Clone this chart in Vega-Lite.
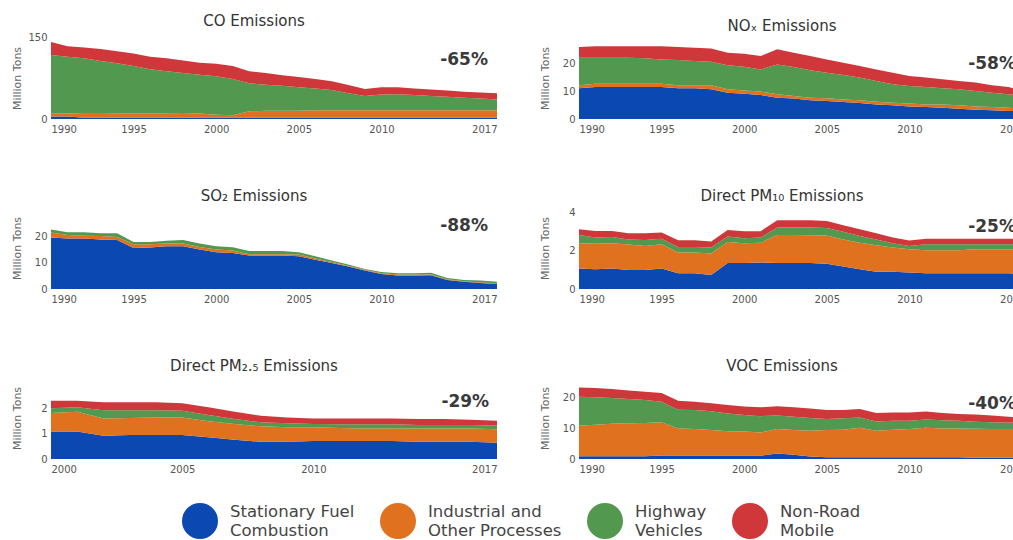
{
"$schema":"https://vega.github.io/schema/vega-lite/v6.json",
"padding":{"left":11,"top":14,"right":0,"bottom":0},
"background":"white",
"datasets":{
"ch":[{"p":"CO","c":"-65%"},{"p":"NOX","c":"-58%"},{"p":"SO2","c":"-88%"},{"p":"PM10","c":"-25%"},{"p":"PM25","c":"-29%"},{"p":"VOC","c":"-40%"}],
"em":[
{"p":"CO","t":1990,"s":"A","v":4.5},{"p":"CO","t":1990,"s":"B","v":5},{"p":"CO","t":1990,"s":"C","v":107.5},{"p":"CO","t":1990,"s":"D","v":24},
{"p":"CO","t":1991,"s":"A","v":4.5},{"p":"CO","t":1991,"s":"B","v":5.5},{"p":"CO","t":1991,"s":"C","v":104},{"p":"CO","t":1991,"s":"D","v":19},
{"p":"CO","t":1992,"s":"A","v":2.5},{"p":"CO","t":1992,"s":"B","v":8.5},{"p":"CO","t":1992,"s":"C","v":100},{"p":"CO","t":1992,"s":"D","v":20},
{"p":"CO","t":1993,"s":"A","v":2.5},{"p":"CO","t":1993,"s":"B","v":8.5},{"p":"CO","t":1993,"s":"C","v":95},{"p":"CO","t":1993,"s":"D","v":22},
{"p":"CO","t":1994,"s":"A","v":2.5},{"p":"CO","t":1994,"s":"B","v":8},{"p":"CO","t":1994,"s":"C","v":91.5},{"p":"CO","t":1994,"s":"D","v":22},
{"p":"CO","t":1995,"s":"A","v":2.5},{"p":"CO","t":1995,"s":"B","v":8},{"p":"CO","t":1995,"s":"C","v":86.5},{"p":"CO","t":1995,"s":"D","v":23},
{"p":"CO","t":1996,"s":"A","v":2.5},{"p":"CO","t":1996,"s":"B","v":8},{"p":"CO","t":1996,"s":"C","v":80.5},{"p":"CO","t":1996,"s":"D","v":23},
{"p":"CO","t":1997,"s":"A","v":2.5},{"p":"CO","t":1997,"s":"B","v":8},{"p":"CO","t":1997,"s":"C","v":77},{"p":"CO","t":1997,"s":"D","v":23.5},
{"p":"CO","t":1998,"s":"A","v":2.5},{"p":"CO","t":1998,"s":"B","v":8.5},{"p":"CO","t":1998,"s":"C","v":73},{"p":"CO","t":1998,"s":"D","v":23},
{"p":"CO","t":1999,"s":"A","v":2.5},{"p":"CO","t":1999,"s":"B","v":7.5},{"p":"CO","t":1999,"s":"C","v":71},{"p":"CO","t":1999,"s":"D","v":22},
{"p":"CO","t":2000,"s":"A","v":2.5},{"p":"CO","t":2000,"s":"B","v":5.5},{"p":"CO","t":2000,"s":"C","v":70},{"p":"CO","t":2000,"s":"D","v":23},
{"p":"CO","t":2001,"s":"A","v":2.5},{"p":"CO","t":2001,"s":"B","v":4.5},{"p":"CO","t":2001,"s":"C","v":66},{"p":"CO","t":2001,"s":"D","v":24},
{"p":"CO","t":2002,"s":"A","v":2.5},{"p":"CO","t":2002,"s":"B","v":11.5},{"p":"CO","t":2002,"s":"C","v":51.5},{"p":"CO","t":2002,"s":"D","v":22},
{"p":"CO","t":2003,"s":"A","v":2.5},{"p":"CO","t":2003,"s":"B","v":12.5},{"p":"CO","t":2003,"s":"C","v":47.5},{"p":"CO","t":2003,"s":"D","v":21.5},
{"p":"CO","t":2004,"s":"A","v":2.5},{"p":"CO","t":2004,"s":"B","v":12.5},{"p":"CO","t":2004,"s":"C","v":46},{"p":"CO","t":2004,"s":"D","v":19},
{"p":"CO","t":2005,"s":"A","v":2.5},{"p":"CO","t":2005,"s":"B","v":12.5},{"p":"CO","t":2005,"s":"C","v":43},{"p":"CO","t":2005,"s":"D","v":19},
{"p":"CO","t":2006,"s":"A","v":2.5},{"p":"CO","t":2006,"s":"B","v":13.5},{"p":"CO","t":2006,"s":"C","v":40},{"p":"CO","t":2006,"s":"D","v":17},
{"p":"CO","t":2007,"s":"A","v":2.5},{"p":"CO","t":2007,"s":"B","v":13.5},{"p":"CO","t":2007,"s":"C","v":37},{"p":"CO","t":2007,"s":"D","v":16},
{"p":"CO","t":2008,"s":"A","v":2.5},{"p":"CO","t":2008,"s":"B","v":13.5},{"p":"CO","t":2008,"s":"C","v":31},{"p":"CO","t":2008,"s":"D","v":15},
{"p":"CO","t":2009,"s":"A","v":2.5},{"p":"CO","t":2009,"s":"B","v":13.5},{"p":"CO","t":2009,"s":"C","v":26},{"p":"CO","t":2009,"s":"D","v":13},
{"p":"CO","t":2010,"s":"A","v":2.5},{"p":"CO","t":2010,"s":"B","v":13.5},{"p":"CO","t":2010,"s":"C","v":29},{"p":"CO","t":2010,"s":"D","v":13},
{"p":"CO","t":2011,"s":"A","v":2.5},{"p":"CO","t":2011,"s":"B","v":13.5},{"p":"CO","t":2011,"s":"C","v":29.5},{"p":"CO","t":2011,"s":"D","v":12.5},
{"p":"CO","t":2012,"s":"A","v":2.5},{"p":"CO","t":2012,"s":"B","v":13.5},{"p":"CO","t":2012,"s":"C","v":28},{"p":"CO","t":2012,"s":"D","v":12},
{"p":"CO","t":2013,"s":"A","v":2.5},{"p":"CO","t":2013,"s":"B","v":13.5},{"p":"CO","t":2013,"s":"C","v":26},{"p":"CO","t":2013,"s":"D","v":12},
{"p":"CO","t":2014,"s":"A","v":2.5},{"p":"CO","t":2014,"s":"B","v":13.5},{"p":"CO","t":2014,"s":"C","v":24.5},{"p":"CO","t":2014,"s":"D","v":11.5},
{"p":"CO","t":2015,"s":"A","v":2.5},{"p":"CO","t":2015,"s":"B","v":13.5},{"p":"CO","t":2015,"s":"C","v":23},{"p":"CO","t":2015,"s":"D","v":11},
{"p":"CO","t":2016,"s":"A","v":2.5},{"p":"CO","t":2016,"s":"B","v":13.5},{"p":"CO","t":2016,"s":"C","v":21.5},{"p":"CO","t":2016,"s":"D","v":11},
{"p":"CO","t":2017,"s":"A","v":2.5},{"p":"CO","t":2017,"s":"B","v":13.5},{"p":"CO","t":2017,"s":"C","v":19.5},{"p":"CO","t":2017,"s":"D","v":11.5},
{"p":"NOX","t":1990,"s":"A","v":11},{"p":"NOX","t":1990,"s":"B","v":1.1},{"p":"NOX","t":1990,"s":"C","v":9.8},{"p":"NOX","t":1990,"s":"D","v":3.8},
{"p":"NOX","t":1991,"s":"A","v":11.4},{"p":"NOX","t":1991,"s":"B","v":1.2},{"p":"NOX","t":1991,"s":"C","v":9.3},{"p":"NOX","t":1991,"s":"D","v":4.1},
{"p":"NOX","t":1992,"s":"A","v":11.4},{"p":"NOX","t":1992,"s":"B","v":1.2},{"p":"NOX","t":1992,"s":"C","v":9.3},{"p":"NOX","t":1992,"s":"D","v":4.1},
{"p":"NOX","t":1993,"s":"A","v":11.4},{"p":"NOX","t":1993,"s":"B","v":1.2},{"p":"NOX","t":1993,"s":"C","v":9.3},{"p":"NOX","t":1993,"s":"D","v":4.1},
{"p":"NOX","t":1994,"s":"A","v":11.4},{"p":"NOX","t":1994,"s":"B","v":1.2},{"p":"NOX","t":1994,"s":"C","v":9.1},{"p":"NOX","t":1994,"s":"D","v":4.3},
{"p":"NOX","t":1995,"s":"A","v":11.4},{"p":"NOX","t":1995,"s":"B","v":1.2},{"p":"NOX","t":1995,"s":"C","v":8.7},{"p":"NOX","t":1995,"s":"D","v":4.7},
{"p":"NOX","t":1996,"s":"A","v":11},{"p":"NOX","t":1996,"s":"B","v":1.1},{"p":"NOX","t":1996,"s":"C","v":9},{"p":"NOX","t":1996,"s":"D","v":4.6},
{"p":"NOX","t":1997,"s":"A","v":11},{"p":"NOX","t":1997,"s":"B","v":1.1},{"p":"NOX","t":1997,"s":"C","v":8.6},{"p":"NOX","t":1997,"s":"D","v":4.8},
{"p":"NOX","t":1998,"s":"A","v":10.6},{"p":"NOX","t":1998,"s":"B","v":1.5},{"p":"NOX","t":1998,"s":"C","v":8.4},{"p":"NOX","t":1998,"s":"D","v":4.7},
{"p":"NOX","t":1999,"s":"A","v":9.4},{"p":"NOX","t":1999,"s":"B","v":1.2},{"p":"NOX","t":1999,"s":"C","v":8.6},{"p":"NOX","t":1999,"s":"D","v":4.5},
{"p":"NOX","t":2000,"s":"A","v":9},{"p":"NOX","t":2000,"s":"B","v":1.2},{"p":"NOX","t":2000,"s":"C","v":8.5},{"p":"NOX","t":2000,"s":"D","v":4.6},
{"p":"NOX","t":2001,"s":"A","v":8.6},{"p":"NOX","t":2001,"s":"B","v":1.2},{"p":"NOX","t":2001,"s":"C","v":7.9},{"p":"NOX","t":2001,"s":"D","v":4.8},
{"p":"NOX","t":2002,"s":"A","v":7.6},{"p":"NOX","t":2002,"s":"B","v":1.2},{"p":"NOX","t":2002,"s":"C","v":10.7},{"p":"NOX","t":2002,"s":"D","v":5.4},
{"p":"NOX","t":2003,"s":"A","v":7.3},{"p":"NOX","t":2003,"s":"B","v":0.9},{"p":"NOX","t":2003,"s":"C","v":10.4},{"p":"NOX","t":2003,"s":"D","v":5.1},
{"p":"NOX","t":2004,"s":"A","v":6.7},{"p":"NOX","t":2004,"s":"B","v":0.9},{"p":"NOX","t":2004,"s":"C","v":9.8},{"p":"NOX","t":2004,"s":"D","v":5.1},
{"p":"NOX","t":2005,"s":"A","v":6.4},{"p":"NOX","t":2005,"s":"B","v":1},{"p":"NOX","t":2005,"s":"C","v":9.1},{"p":"NOX","t":2005,"s":"D","v":4.8},
{"p":"NOX","t":2006,"s":"A","v":6.1},{"p":"NOX","t":2006,"s":"B","v":0.9},{"p":"NOX","t":2006,"s":"C","v":8.7},{"p":"NOX","t":2006,"s":"D","v":4.4},
{"p":"NOX","t":2007,"s":"A","v":5.7},{"p":"NOX","t":2007,"s":"B","v":1},{"p":"NOX","t":2007,"s":"C","v":8.1},{"p":"NOX","t":2007,"s":"D","v":4.1},
{"p":"NOX","t":2008,"s":"A","v":5.2},{"p":"NOX","t":2008,"s":"B","v":1},{"p":"NOX","t":2008,"s":"C","v":7.4},{"p":"NOX","t":2008,"s":"D","v":4.1},
{"p":"NOX","t":2009,"s":"A","v":4.9},{"p":"NOX","t":2009,"s":"B","v":0.9},{"p":"NOX","t":2009,"s":"C","v":6.6},{"p":"NOX","t":2009,"s":"D","v":4.1},
{"p":"NOX","t":2010,"s":"A","v":4.5},{"p":"NOX","t":2010,"s":"B","v":1},{"p":"NOX","t":2010,"s":"C","v":6.3},{"p":"NOX","t":2010,"s":"D","v":3.6},
{"p":"NOX","t":2011,"s":"A","v":4.3},{"p":"NOX","t":2011,"s":"B","v":0.9},{"p":"NOX","t":2011,"s":"C","v":6.2},{"p":"NOX","t":2011,"s":"D","v":3.4},
{"p":"NOX","t":2012,"s":"A","v":4},{"p":"NOX","t":2012,"s":"B","v":1.2},{"p":"NOX","t":2012,"s":"C","v":5.8},{"p":"NOX","t":2012,"s":"D","v":3.2},
{"p":"NOX","t":2013,"s":"A","v":3.7},{"p":"NOX","t":2013,"s":"B","v":1.2},{"p":"NOX","t":2013,"s":"C","v":5.7},{"p":"NOX","t":2013,"s":"D","v":3},
{"p":"NOX","t":2014,"s":"A","v":3.3},{"p":"NOX","t":2014,"s":"B","v":1.2},{"p":"NOX","t":2014,"s":"C","v":5.5},{"p":"NOX","t":2014,"s":"D","v":3},
{"p":"NOX","t":2015,"s":"A","v":3.1},{"p":"NOX","t":2015,"s":"B","v":1.2},{"p":"NOX","t":2015,"s":"C","v":5.1},{"p":"NOX","t":2015,"s":"D","v":2.7},
{"p":"NOX","t":2016,"s":"A","v":2.9},{"p":"NOX","t":2016,"s":"B","v":1.1},{"p":"NOX","t":2016,"s":"C","v":4.8},{"p":"NOX","t":2016,"s":"D","v":2.6},
{"p":"NOX","t":2017,"s":"A","v":2.6},{"p":"NOX","t":2017,"s":"B","v":1.2},{"p":"NOX","t":2017,"s":"C","v":4.4},{"p":"NOX","t":2017,"s":"D","v":1.8},
{"p":"SO2","t":1990,"s":"A","v":19.5},{"p":"SO2","t":1990,"s":"B","v":1.9},{"p":"SO2","t":1990,"s":"C","v":1.1},
{"p":"SO2","t":1991,"s":"A","v":19.1},{"p":"SO2","t":1991,"s":"B","v":1.3},{"p":"SO2","t":1991,"s":"C","v":1.1},
{"p":"SO2","t":1992,"s":"A","v":19.1},{"p":"SO2","t":1992,"s":"B","v":1},{"p":"SO2","t":1992,"s":"C","v":1.4},
{"p":"SO2","t":1993,"s":"A","v":18.7},{"p":"SO2","t":1993,"s":"B","v":1.3},{"p":"SO2","t":1993,"s":"C","v":1.1},
{"p":"SO2","t":1994,"s":"A","v":18.5},{"p":"SO2","t":1994,"s":"B","v":1.2},{"p":"SO2","t":1994,"s":"C","v":1.4},
{"p":"SO2","t":1995,"s":"A","v":15.5},{"p":"SO2","t":1995,"s":"B","v":1.4},{"p":"SO2","t":1995,"s":"C","v":0.9},
{"p":"SO2","t":1996,"s":"A","v":15.7},{"p":"SO2","t":1996,"s":"B","v":1.2},{"p":"SO2","t":1996,"s":"C","v":0.9},
{"p":"SO2","t":1997,"s":"A","v":16.2},{"p":"SO2","t":1997,"s":"B","v":1},{"p":"SO2","t":1997,"s":"C","v":1},
{"p":"SO2","t":1998,"s":"A","v":16.2},{"p":"SO2","t":1998,"s":"B","v":1},{"p":"SO2","t":1998,"s":"C","v":1.3},
{"p":"SO2","t":1999,"s":"A","v":14.9},{"p":"SO2","t":1999,"s":"B","v":1},{"p":"SO2","t":1999,"s":"C","v":1.3},
{"p":"SO2","t":2000,"s":"A","v":13.9},{"p":"SO2","t":2000,"s":"B","v":1},{"p":"SO2","t":2000,"s":"C","v":1.3},
{"p":"SO2","t":2001,"s":"A","v":13.6},{"p":"SO2","t":2001,"s":"B","v":1},{"p":"SO2","t":2001,"s":"C","v":1.2},
{"p":"SO2","t":2002,"s":"A","v":12.7},{"p":"SO2","t":2002,"s":"B","v":0.4},{"p":"SO2","t":2002,"s":"C","v":1.3},
{"p":"SO2","t":2003,"s":"A","v":12.7},{"p":"SO2","t":2003,"s":"B","v":0.4},{"p":"SO2","t":2003,"s":"C","v":1.3},
{"p":"SO2","t":2004,"s":"A","v":12.7},{"p":"SO2","t":2004,"s":"B","v":0.4},{"p":"SO2","t":2004,"s":"C","v":1.3},
{"p":"SO2","t":2005,"s":"A","v":12.4},{"p":"SO2","t":2005,"s":"B","v":0.6},{"p":"SO2","t":2005,"s":"C","v":0.9},
{"p":"SO2","t":2006,"s":"A","v":11.1},{"p":"SO2","t":2006,"s":"B","v":0.4},{"p":"SO2","t":2006,"s":"C","v":0.9},
{"p":"SO2","t":2007,"s":"A","v":9.8},{"p":"SO2","t":2007,"s":"B","v":0.4},{"p":"SO2","t":2007,"s":"C","v":0.6},
{"p":"SO2","t":2008,"s":"A","v":8.5},{"p":"SO2","t":2008,"s":"B","v":0.3},{"p":"SO2","t":2008,"s":"C","v":0.5},
{"p":"SO2","t":2009,"s":"A","v":7},{"p":"SO2","t":2009,"s":"B","v":0.3},{"p":"SO2","t":2009,"s":"C","v":0.3},
{"p":"SO2","t":2010,"s":"A","v":5.7},{"p":"SO2","t":2010,"s":"B","v":0.3},{"p":"SO2","t":2010,"s":"C","v":0.4},
{"p":"SO2","t":2011,"s":"A","v":5.1},{"p":"SO2","t":2011,"s":"B","v":0.4},{"p":"SO2","t":2011,"s":"C","v":0.5},
{"p":"SO2","t":2012,"s":"A","v":5.1},{"p":"SO2","t":2012,"s":"B","v":0.4},{"p":"SO2","t":2012,"s":"C","v":0.5},
{"p":"SO2","t":2013,"s":"A","v":5.2},{"p":"SO2","t":2013,"s":"B","v":0.3},{"p":"SO2","t":2013,"s":"C","v":0.6},
{"p":"SO2","t":2014,"s":"A","v":3.4},{"p":"SO2","t":2014,"s":"B","v":0.3},{"p":"SO2","t":2014,"s":"C","v":0.5},
{"p":"SO2","t":2015,"s":"A","v":2.7},{"p":"SO2","t":2015,"s":"B","v":0.2},{"p":"SO2","t":2015,"s":"C","v":0.5},
{"p":"SO2","t":2016,"s":"A","v":2.3},{"p":"SO2","t":2016,"s":"B","v":0.2},{"p":"SO2","t":2016,"s":"C","v":0.7},
{"p":"SO2","t":2017,"s":"A","v":1.9},{"p":"SO2","t":2017,"s":"B","v":0.3},{"p":"SO2","t":2017,"s":"C","v":0.5},
{"p":"PM10","t":1990,"s":"A","v":1.08},{"p":"PM10","t":1990,"s":"B","v":1.32},{"p":"PM10","t":1990,"s":"C","v":0.43},{"p":"PM10","t":1990,"s":"D","v":0.3},
{"p":"PM10","t":1991,"s":"A","v":1.04},{"p":"PM10","t":1991,"s":"B","v":1.33},{"p":"PM10","t":1991,"s":"C","v":0.33},{"p":"PM10","t":1991,"s":"D","v":0.34},
{"p":"PM10","t":1992,"s":"A","v":1.08},{"p":"PM10","t":1992,"s":"B","v":1.32},{"p":"PM10","t":1992,"s":"C","v":0.33},{"p":"PM10","t":1992,"s":"D","v":0.31},
{"p":"PM10","t":1993,"s":"A","v":1},{"p":"PM10","t":1993,"s":"B","v":1.33},{"p":"PM10","t":1993,"s":"C","v":0.27},{"p":"PM10","t":1993,"s":"D","v":0.32},
{"p":"PM10","t":1994,"s":"A","v":1},{"p":"PM10","t":1994,"s":"B","v":1.26},{"p":"PM10","t":1994,"s":"C","v":0.31},{"p":"PM10","t":1994,"s":"D","v":0.35},
{"p":"PM10","t":1995,"s":"A","v":1.08},{"p":"PM10","t":1995,"s":"B","v":1.27},{"p":"PM10","t":1995,"s":"C","v":0.29},{"p":"PM10","t":1995,"s":"D","v":0.32},
{"p":"PM10","t":1996,"s":"A","v":0.82},{"p":"PM10","t":1996,"s":"B","v":1.09},{"p":"PM10","t":1996,"s":"C","v":0.29},{"p":"PM10","t":1996,"s":"D","v":0.36},
{"p":"PM10","t":1997,"s":"A","v":0.82},{"p":"PM10","t":1997,"s":"B","v":1.09},{"p":"PM10","t":1997,"s":"C","v":0.29},{"p":"PM10","t":1997,"s":"D","v":0.36},
{"p":"PM10","t":1998,"s":"A","v":0.73},{"p":"PM10","t":1998,"s":"B","v":1.13},{"p":"PM10","t":1998,"s":"C","v":0.31},{"p":"PM10","t":1998,"s":"D","v":0.32},
{"p":"PM10","t":1999,"s":"A","v":1.36},{"p":"PM10","t":1999,"s":"B","v":1.11},{"p":"PM10","t":1999,"s":"C","v":0.28},{"p":"PM10","t":1999,"s":"D","v":0.35},
{"p":"PM10","t":2000,"s":"A","v":1.36},{"p":"PM10","t":2000,"s":"B","v":1.04},{"p":"PM10","t":2000,"s":"C","v":0.26},{"p":"PM10","t":2000,"s":"D","v":0.37},
{"p":"PM10","t":2001,"s":"A","v":1.39},{"p":"PM10","t":2001,"s":"B","v":1.04},{"p":"PM10","t":2001,"s":"C","v":0.27},{"p":"PM10","t":2001,"s":"D","v":0.33},
{"p":"PM10","t":2002,"s":"A","v":1.36},{"p":"PM10","t":2002,"s":"B","v":1.47},{"p":"PM10","t":2002,"s":"C","v":0.39},{"p":"PM10","t":2002,"s":"D","v":0.38},
{"p":"PM10","t":2003,"s":"A","v":1.36},{"p":"PM10","t":2003,"s":"B","v":1.47},{"p":"PM10","t":2003,"s":"C","v":0.39},{"p":"PM10","t":2003,"s":"D","v":0.38},
{"p":"PM10","t":2004,"s":"A","v":1.36},{"p":"PM10","t":2004,"s":"B","v":1.46},{"p":"PM10","t":2004,"s":"C","v":0.4},{"p":"PM10","t":2004,"s":"D","v":0.38},
{"p":"PM10","t":2005,"s":"A","v":1.32},{"p":"PM10","t":2005,"s":"B","v":1.48},{"p":"PM10","t":2005,"s":"C","v":0.4},{"p":"PM10","t":2005,"s":"D","v":0.37},
{"p":"PM10","t":2006,"s":"A","v":1.18},{"p":"PM10","t":2006,"s":"B","v":1.42},{"p":"PM10","t":2006,"s":"C","v":0.4},{"p":"PM10","t":2006,"s":"D","v":0.34},
{"p":"PM10","t":2007,"s":"A","v":1.04},{"p":"PM10","t":2007,"s":"B","v":1.39},{"p":"PM10","t":2007,"s":"C","v":0.35},{"p":"PM10","t":2007,"s":"D","v":0.35},
{"p":"PM10","t":2008,"s":"A","v":0.9},{"p":"PM10","t":2008,"s":"B","v":1.4},{"p":"PM10","t":2008,"s":"C","v":0.3},{"p":"PM10","t":2008,"s":"D","v":0.32},
{"p":"PM10","t":2009,"s":"A","v":0.9},{"p":"PM10","t":2009,"s":"B","v":1.27},{"p":"PM10","t":2009,"s":"C","v":0.23},{"p":"PM10","t":2009,"s":"D","v":0.3},
{"p":"PM10","t":2010,"s":"A","v":0.87},{"p":"PM10","t":2010,"s":"B","v":1.22},{"p":"PM10","t":2010,"s":"C","v":0.17},{"p":"PM10","t":2010,"s":"D","v":0.28},
{"p":"PM10","t":2011,"s":"A","v":0.83},{"p":"PM10","t":2011,"s":"B","v":1.2},{"p":"PM10","t":2011,"s":"C","v":0.32},{"p":"PM10","t":2011,"s":"D","v":0.28},
{"p":"PM10","t":2012,"s":"A","v":0.83},{"p":"PM10","t":2012,"s":"B","v":1.2},{"p":"PM10","t":2012,"s":"C","v":0.32},{"p":"PM10","t":2012,"s":"D","v":0.28},
{"p":"PM10","t":2013,"s":"A","v":0.83},{"p":"PM10","t":2013,"s":"B","v":1.2},{"p":"PM10","t":2013,"s":"C","v":0.32},{"p":"PM10","t":2013,"s":"D","v":0.28},
{"p":"PM10","t":2014,"s":"A","v":0.83},{"p":"PM10","t":2014,"s":"B","v":1.26},{"p":"PM10","t":2014,"s":"C","v":0.26},{"p":"PM10","t":2014,"s":"D","v":0.28},
{"p":"PM10","t":2015,"s":"A","v":0.83},{"p":"PM10","t":2015,"s":"B","v":1.26},{"p":"PM10","t":2015,"s":"C","v":0.26},{"p":"PM10","t":2015,"s":"D","v":0.28},
{"p":"PM10","t":2016,"s":"A","v":0.83},{"p":"PM10","t":2016,"s":"B","v":1.26},{"p":"PM10","t":2016,"s":"C","v":0.26},{"p":"PM10","t":2016,"s":"D","v":0.28},
{"p":"PM10","t":2017,"s":"A","v":0.78},{"p":"PM10","t":2017,"s":"B","v":1.27},{"p":"PM10","t":2017,"s":"C","v":0.3},{"p":"PM10","t":2017,"s":"D","v":0.28},
{"p":"PM25","t":2000,"s":"A","v":1.09},{"p":"PM25","t":2000,"s":"B","v":0.73},{"p":"PM25","t":2000,"s":"C","v":0.19},{"p":"PM25","t":2000,"s":"D","v":0.29},
{"p":"PM25","t":2001,"s":"A","v":1.09},{"p":"PM25","t":2001,"s":"B","v":0.78},{"p":"PM25","t":2001,"s":"C","v":0.17},{"p":"PM25","t":2001,"s":"D","v":0.26},
{"p":"PM25","t":2002,"s":"A","v":0.92},{"p":"PM25","t":2002,"s":"B","v":0.68},{"p":"PM25","t":2002,"s":"C","v":0.33},{"p":"PM25","t":2002,"s":"D","v":0.31},
{"p":"PM25","t":2003,"s":"A","v":0.95},{"p":"PM25","t":2003,"s":"B","v":0.67},{"p":"PM25","t":2003,"s":"C","v":0.31},{"p":"PM25","t":2003,"s":"D","v":0.31},
{"p":"PM25","t":2004,"s":"A","v":0.95},{"p":"PM25","t":2004,"s":"B","v":0.69},{"p":"PM25","t":2004,"s":"C","v":0.29},{"p":"PM25","t":2004,"s":"D","v":0.31},
{"p":"PM25","t":2005,"s":"A","v":0.95},{"p":"PM25","t":2005,"s":"B","v":0.69},{"p":"PM25","t":2005,"s":"C","v":0.27},{"p":"PM25","t":2005,"s":"D","v":0.29},
{"p":"PM25","t":2006,"s":"A","v":0.86},{"p":"PM25","t":2006,"s":"B","v":0.63},{"p":"PM25","t":2006,"s":"C","v":0.25},{"p":"PM25","t":2006,"s":"D","v":0.3},
{"p":"PM25","t":2007,"s":"A","v":0.76},{"p":"PM25","t":2007,"s":"B","v":0.62},{"p":"PM25","t":2007,"s":"C","v":0.2},{"p":"PM25","t":2007,"s":"D","v":0.29},
{"p":"PM25","t":2008,"s":"A","v":0.68},{"p":"PM25","t":2008,"s":"B","v":0.61},{"p":"PM25","t":2008,"s":"C","v":0.16},{"p":"PM25","t":2008,"s":"D","v":0.26},
{"p":"PM25","t":2009,"s":"A","v":0.68},{"p":"PM25","t":2009,"s":"B","v":0.57},{"p":"PM25","t":2009,"s":"C","v":0.16},{"p":"PM25","t":2009,"s":"D","v":0.23},
{"p":"PM25","t":2010,"s":"A","v":0.71},{"p":"PM25","t":2010,"s":"B","v":0.54},{"p":"PM25","t":2010,"s":"C","v":0.13},{"p":"PM25","t":2010,"s":"D","v":0.22},
{"p":"PM25","t":2011,"s":"A","v":0.71},{"p":"PM25","t":2011,"s":"B","v":0.51},{"p":"PM25","t":2011,"s":"C","v":0.15},{"p":"PM25","t":2011,"s":"D","v":0.23},
{"p":"PM25","t":2012,"s":"A","v":0.71},{"p":"PM25","t":2012,"s":"B","v":0.5},{"p":"PM25","t":2012,"s":"C","v":0.16},{"p":"PM25","t":2012,"s":"D","v":0.23},
{"p":"PM25","t":2013,"s":"A","v":0.71},{"p":"PM25","t":2013,"s":"B","v":0.5},{"p":"PM25","t":2013,"s":"C","v":0.16},{"p":"PM25","t":2013,"s":"D","v":0.23},
{"p":"PM25","t":2014,"s":"A","v":0.68},{"p":"PM25","t":2014,"s":"B","v":0.53},{"p":"PM25","t":2014,"s":"C","v":0.13},{"p":"PM25","t":2014,"s":"D","v":0.24},
{"p":"PM25","t":2015,"s":"A","v":0.68},{"p":"PM25","t":2015,"s":"B","v":0.53},{"p":"PM25","t":2015,"s":"C","v":0.13},{"p":"PM25","t":2015,"s":"D","v":0.24},
{"p":"PM25","t":2016,"s":"A","v":0.68},{"p":"PM25","t":2016,"s":"B","v":0.53},{"p":"PM25","t":2016,"s":"C","v":0.13},{"p":"PM25","t":2016,"s":"D","v":0.21},
{"p":"PM25","t":2017,"s":"A","v":0.64},{"p":"PM25","t":2017,"s":"B","v":0.54},{"p":"PM25","t":2017,"s":"C","v":0.14},{"p":"PM25","t":2017,"s":"D","v":0.19},
{"p":"VOC","t":1990,"s":"A","v":0.9},{"p":"VOC","t":1990,"s":"B","v":9.9},{"p":"VOC","t":1990,"s":"C","v":9.4},{"p":"VOC","t":1990,"s":"D","v":3},
{"p":"VOC","t":1991,"s":"A","v":0.9},{"p":"VOC","t":1991,"s":"B","v":10.2},{"p":"VOC","t":1991,"s":"C","v":8.9},{"p":"VOC","t":1991,"s":"D","v":3},
{"p":"VOC","t":1992,"s":"A","v":0.9},{"p":"VOC","t":1992,"s":"B","v":10.5},{"p":"VOC","t":1992,"s":"C","v":8.4},{"p":"VOC","t":1992,"s":"D","v":2.9},
{"p":"VOC","t":1993,"s":"A","v":0.9},{"p":"VOC","t":1993,"s":"B","v":10.7},{"p":"VOC","t":1993,"s":"C","v":7.9},{"p":"VOC","t":1993,"s":"D","v":2.7},
{"p":"VOC","t":1994,"s":"A","v":0.9},{"p":"VOC","t":1994,"s":"B","v":10.8},{"p":"VOC","t":1994,"s":"C","v":7.4},{"p":"VOC","t":1994,"s":"D","v":2.7},
{"p":"VOC","t":1995,"s":"A","v":1.1},{"p":"VOC","t":1995,"s":"B","v":10.8},{"p":"VOC","t":1995,"s":"C","v":6.7},{"p":"VOC","t":1995,"s":"D","v":2.8},
{"p":"VOC","t":1996,"s":"A","v":1.1},{"p":"VOC","t":1996,"s":"B","v":8.8},{"p":"VOC","t":1996,"s":"C","v":6.1},{"p":"VOC","t":1996,"s":"D","v":2.9},
{"p":"VOC","t":1997,"s":"A","v":1.1},{"p":"VOC","t":1997,"s":"B","v":8.6},{"p":"VOC","t":1997,"s":"C","v":6.2},{"p":"VOC","t":1997,"s":"D","v":2.7},
{"p":"VOC","t":1998,"s":"A","v":1.1},{"p":"VOC","t":1998,"s":"B","v":8.3},{"p":"VOC","t":1998,"s":"C","v":6.1},{"p":"VOC","t":1998,"s":"D","v":2.6},
{"p":"VOC","t":1999,"s":"A","v":1.1},{"p":"VOC","t":1999,"s":"B","v":7.9},{"p":"VOC","t":1999,"s":"C","v":5.8},{"p":"VOC","t":1999,"s":"D","v":2.7},
{"p":"VOC","t":2000,"s":"A","v":1.1},{"p":"VOC","t":2000,"s":"B","v":7.8},{"p":"VOC","t":2000,"s":"C","v":5.4},{"p":"VOC","t":2000,"s":"D","v":2.7},
{"p":"VOC","t":2001,"s":"A","v":1.1},{"p":"VOC","t":2001,"s":"B","v":7.5},{"p":"VOC","t":2001,"s":"C","v":5.3},{"p":"VOC","t":2001,"s":"D","v":2.9},
{"p":"VOC","t":2002,"s":"A","v":1.8},{"p":"VOC","t":2002,"s":"B","v":7.9},{"p":"VOC","t":2002,"s":"C","v":4.4},{"p":"VOC","t":2002,"s":"D","v":3},
{"p":"VOC","t":2003,"s":"A","v":1.4},{"p":"VOC","t":2003,"s":"B","v":8},{"p":"VOC","t":2003,"s":"C","v":4.3},{"p":"VOC","t":2003,"s":"D","v":3.1},
{"p":"VOC","t":2004,"s":"A","v":0.8},{"p":"VOC","t":2004,"s":"B","v":8.4},{"p":"VOC","t":2004,"s":"C","v":4.1},{"p":"VOC","t":2004,"s":"D","v":3.1},
{"p":"VOC","t":2005,"s":"A","v":0.6},{"p":"VOC","t":2005,"s":"B","v":8.8},{"p":"VOC","t":2005,"s":"C","v":3.6},{"p":"VOC","t":2005,"s":"D","v":2.9},
{"p":"VOC","t":2006,"s":"A","v":0.6},{"p":"VOC","t":2006,"s":"B","v":8.9},{"p":"VOC","t":2006,"s":"C","v":3.7},{"p":"VOC","t":2006,"s":"D","v":2.7},
{"p":"VOC","t":2007,"s":"A","v":0.6},{"p":"VOC","t":2007,"s":"B","v":9.5},{"p":"VOC","t":2007,"s":"C","v":3.4},{"p":"VOC","t":2007,"s":"D","v":2.7},
{"p":"VOC","t":2008,"s":"A","v":0.6},{"p":"VOC","t":2008,"s":"B","v":8.6},{"p":"VOC","t":2008,"s":"C","v":3},{"p":"VOC","t":2008,"s":"D","v":2.7},
{"p":"VOC","t":2009,"s":"A","v":0.6},{"p":"VOC","t":2009,"s":"B","v":8.9},{"p":"VOC","t":2009,"s":"C","v":2.9},{"p":"VOC","t":2009,"s":"D","v":2.7},
{"p":"VOC","t":2010,"s":"A","v":0.6},{"p":"VOC","t":2010,"s":"B","v":9.1},{"p":"VOC","t":2010,"s":"C","v":2.7},{"p":"VOC","t":2010,"s":"D","v":2.7},
{"p":"VOC","t":2011,"s":"A","v":0.6},{"p":"VOC","t":2011,"s":"B","v":9.5},{"p":"VOC","t":2011,"s":"C","v":2.7},{"p":"VOC","t":2011,"s":"D","v":2.6},
{"p":"VOC","t":2012,"s":"A","v":0.6},{"p":"VOC","t":2012,"s":"B","v":9.3},{"p":"VOC","t":2012,"s":"C","v":2.7},{"p":"VOC","t":2012,"s":"D","v":2.3},
{"p":"VOC","t":2013,"s":"A","v":0.6},{"p":"VOC","t":2013,"s":"B","v":9.3},{"p":"VOC","t":2013,"s":"C","v":2.5},{"p":"VOC","t":2013,"s":"D","v":2.2},
{"p":"VOC","t":2014,"s":"A","v":0.4},{"p":"VOC","t":2014,"s":"B","v":9.4},{"p":"VOC","t":2014,"s":"C","v":2.3},{"p":"VOC","t":2014,"s":"D","v":2.3},
{"p":"VOC","t":2015,"s":"A","v":0.4},{"p":"VOC","t":2015,"s":"B","v":9.3},{"p":"VOC","t":2015,"s":"C","v":2.2},{"p":"VOC","t":2015,"s":"D","v":2.2},
{"p":"VOC","t":2016,"s":"A","v":0.4},{"p":"VOC","t":2016,"s":"B","v":9.3},{"p":"VOC","t":2016,"s":"C","v":2.1},{"p":"VOC","t":2016,"s":"D","v":1.9},
{"p":"VOC","t":2017,"s":"A","v":0.4},{"p":"VOC","t":2017,"s":"B","v":9.3},{"p":"VOC","t":2017,"s":"C","v":1.9},{"p":"VOC","t":2017,"s":"D","v":1.7}
]},
"columns":2,
"spacing":{"row":55,"column":42},
"concat":[
{"title":"CO Emissions","width":446,"height":82,"layer":[
 {"data":{"name":"em"},"transform":[{"filter":"datum.p == 'CO'"}],"mark":{"type":"area","line":false,"opacity":1},
  "encoding":{"x":{"field":"t","type":"quantitative","scale":{"domain":[1990,2017],"nice":false,"zero":false},"axis":{"values":[1990,1995,2000,2005,2010,2017],"format":"d","title":null}},
   "y":{"field":"v","type":"quantitative","stack":"zero","scale":{"domain":[0,150],"nice":false},"axis":{"values":[0,50,100,150],"title":"Million Tons"}},
   "order":{"field":"s","type":"ordinal","sort":"ascending"},
   "color":{"field":"s","type":"nominal","scale":{"domain":["A","B","C","D"],"range":["#0C48B2","#E0711F","#52994F","#CF373B"]},"legend":{"orient":"none","legendX":131,"legendY":466,"direction":"horizontal","title":null,"labelExpr":"datum.value == 'A' ? ['Stationary Fuel','Combustion'] : datum.value == 'B' ? ['Industrial and','Other Processes'] : datum.value == 'C' ? ['Highway','Vehicles'] : ['Non-Road','Mobile']","encode":{"labels":{"update":{"dy":{"value":-9}}}}}}}},
 {"data":{"name":"ch"},"transform":[{"filter":"datum.p == 'CO'"}],"mark":{"type":"text","align":"right","baseline":"middle","font":"DejaVu Sans","fontWeight":"bold","fontSize":17,"color":"#3a3a3a"},
  "encoding":{"x":{"datum":2016.45,"type":"quantitative"},"y":{"datum":108,"type":"quantitative"},"text":{"field":"c"}}}
]},
{"title":"NOₓ Emissions","width":446,"height":82,"layer":[
 {"data":{"name":"em"},"transform":[{"filter":"datum.p == 'NOX'"}],"mark":{"type":"area","line":false,"opacity":1},
  "encoding":{"x":{"field":"t","type":"quantitative","scale":{"domain":[1990,2017],"nice":false,"zero":false},"axis":{"values":[1990,1995,2000,2005,2010,2017],"format":"d","title":null}},
   "y":{"field":"v","type":"quantitative","stack":"zero","scale":{"domain":[0,29.3],"nice":false},"axis":{"values":[0,10,20],"title":"Million Tons"}},
   "order":{"field":"s","type":"ordinal","sort":"ascending"},
   "color":{"field":"s","type":"nominal","scale":{"domain":["A","B","C","D"],"range":["#0C48B2","#E0711F","#52994F","#CF373B"]},"legend":{"orient":"none","legendX":131,"legendY":466,"direction":"horizontal","title":null,"labelExpr":"datum.value == 'A' ? ['Stationary Fuel','Combustion'] : datum.value == 'B' ? ['Industrial and','Other Processes'] : datum.value == 'C' ? ['Highway','Vehicles'] : ['Non-Road','Mobile']","encode":{"labels":{"update":{"dy":{"value":-9}}}}}}}},
 {"data":{"name":"ch"},"transform":[{"filter":"datum.p == 'NOX'"}],"mark":{"type":"text","align":"right","baseline":"middle","font":"DejaVu Sans","fontWeight":"bold","fontSize":17,"color":"#3a3a3a"},
  "encoding":{"x":{"datum":2016.45,"type":"quantitative"},"y":{"datum":19.6,"type":"quantitative"},"text":{"field":"c"}}}
]},
{"title":"SO₂ Emissions","width":446,"height":82,"layer":[
 {"data":{"name":"em"},"transform":[{"filter":"datum.p == 'SO2'"}],"mark":{"type":"area","line":false,"opacity":1},
  "encoding":{"x":{"field":"t","type":"quantitative","scale":{"domain":[1990,2017],"nice":false,"zero":false},"axis":{"values":[1990,1995,2000,2005,2010,2017],"format":"d","title":null}},
   "y":{"field":"v","type":"quantitative","stack":"zero","scale":{"domain":[0,31],"nice":false},"axis":{"values":[0,10,20],"title":"Million Tons"}},
   "order":{"field":"s","type":"ordinal","sort":"ascending"},
   "color":{"field":"s","type":"nominal","scale":{"domain":["A","B","C","D"],"range":["#0C48B2","#E0711F","#52994F","#CF373B"]},"legend":{"orient":"none","legendX":131,"legendY":466,"direction":"horizontal","title":null,"labelExpr":"datum.value == 'A' ? ['Stationary Fuel','Combustion'] : datum.value == 'B' ? ['Industrial and','Other Processes'] : datum.value == 'C' ? ['Highway','Vehicles'] : ['Non-Road','Mobile']","encode":{"labels":{"update":{"dy":{"value":-9}}}}}}}},
 {"data":{"name":"ch"},"transform":[{"filter":"datum.p == 'SO2'"}],"mark":{"type":"text","align":"right","baseline":"middle","font":"DejaVu Sans","fontWeight":"bold","fontSize":17,"color":"#3a3a3a"},
  "encoding":{"x":{"datum":2016.45,"type":"quantitative"},"y":{"datum":24,"type":"quantitative"},"text":{"field":"c"}}}
]},
{"title":"Direct PM₁₀ Emissions","width":446,"height":82,"layer":[
 {"data":{"name":"em"},"transform":[{"filter":"datum.p == 'PM10'"}],"mark":{"type":"area","line":false,"opacity":1},
  "encoding":{"x":{"field":"t","type":"quantitative","scale":{"domain":[1990,2017],"nice":false,"zero":false},"axis":{"values":[1990,1995,2000,2005,2010,2017],"format":"d","title":null}},
   "y":{"field":"v","type":"quantitative","stack":"zero","scale":{"domain":[0,4.3],"nice":false},"axis":{"values":[0,1,2,3,4],"title":"Million Tons"}},
   "order":{"field":"s","type":"ordinal","sort":"ascending"},
   "color":{"field":"s","type":"nominal","scale":{"domain":["A","B","C","D"],"range":["#0C48B2","#E0711F","#52994F","#CF373B"]},"legend":{"orient":"none","legendX":131,"legendY":466,"direction":"horizontal","title":null,"labelExpr":"datum.value == 'A' ? ['Stationary Fuel','Combustion'] : datum.value == 'B' ? ['Industrial and','Other Processes'] : datum.value == 'C' ? ['Highway','Vehicles'] : ['Non-Road','Mobile']","encode":{"labels":{"update":{"dy":{"value":-9}}}}}}}},
 {"data":{"name":"ch"},"transform":[{"filter":"datum.p == 'PM10'"}],"mark":{"type":"text","align":"right","baseline":"middle","font":"DejaVu Sans","fontWeight":"bold","fontSize":17,"color":"#3a3a3a"},
  "encoding":{"x":{"datum":2016.45,"type":"quantitative"},"y":{"datum":3.23,"type":"quantitative"},"text":{"field":"c"}}}
]},
{"title":"Direct PM₂.₅ Emissions","width":446,"height":82,"layer":[
 {"data":{"name":"em"},"transform":[{"filter":"datum.p == 'PM25'"}],"mark":{"type":"area","line":false,"opacity":1},
  "encoding":{"x":{"field":"t","type":"quantitative","scale":{"domain":[2000,2017],"nice":false,"zero":false},"axis":{"values":[2000,2005,2010,2017],"format":"d","title":null}},
   "y":{"field":"v","type":"quantitative","stack":"zero","scale":{"domain":[0,3.24],"nice":false},"axis":{"values":[0,1,2],"title":"Million Tons"}},
   "order":{"field":"s","type":"ordinal","sort":"ascending"},
   "color":{"field":"s","type":"nominal","scale":{"domain":["A","B","C","D"],"range":["#0C48B2","#E0711F","#52994F","#CF373B"]},"legend":{"orient":"none","legendX":131,"legendY":466,"direction":"horizontal","title":null,"labelExpr":"datum.value == 'A' ? ['Stationary Fuel','Combustion'] : datum.value == 'B' ? ['Industrial and','Other Processes'] : datum.value == 'C' ? ['Highway','Vehicles'] : ['Non-Road','Mobile']","encode":{"labels":{"update":{"dy":{"value":-9}}}}}}}},
 {"data":{"name":"ch"},"transform":[{"filter":"datum.p == 'PM25'"}],"mark":{"type":"text","align":"right","baseline":"middle","font":"DejaVu Sans","fontWeight":"bold","fontSize":17,"color":"#3a3a3a"},
  "encoding":{"x":{"datum":2016.7,"type":"quantitative"},"y":{"datum":2.25,"type":"quantitative"},"text":{"field":"c"}}}
]},
{"title":"VOC Emissions","width":446,"height":82,"layer":[
 {"data":{"name":"em"},"transform":[{"filter":"datum.p == 'VOC'"}],"mark":{"type":"area","line":false,"opacity":1},
  "encoding":{"x":{"field":"t","type":"quantitative","scale":{"domain":[1990,2017],"nice":false,"zero":false},"axis":{"values":[1990,1995,2000,2005,2010,2017],"format":"d","title":null}},
   "y":{"field":"v","type":"quantitative","stack":"zero","scale":{"domain":[0,26.6],"nice":false},"axis":{"values":[0,10,20],"title":"Million Tons"}},
   "order":{"field":"s","type":"ordinal","sort":"ascending"},
   "color":{"field":"s","type":"nominal","scale":{"domain":["A","B","C","D"],"range":["#0C48B2","#E0711F","#52994F","#CF373B"]},"legend":{"orient":"none","legendX":131,"legendY":466,"direction":"horizontal","title":null,"labelExpr":"datum.value == 'A' ? ['Stationary Fuel','Combustion'] : datum.value == 'B' ? ['Industrial and','Other Processes'] : datum.value == 'C' ? ['Highway','Vehicles'] : ['Non-Road','Mobile']","encode":{"labels":{"update":{"dy":{"value":-9}}}}}}}},
 {"data":{"name":"ch"},"transform":[{"filter":"datum.p == 'VOC'"}],"mark":{"type":"text","align":"right","baseline":"middle","font":"DejaVu Sans","fontWeight":"bold","fontSize":17,"color":"#3a3a3a"},
  "encoding":{"x":{"datum":2016.45,"type":"quantitative"},"y":{"datum":17.9,"type":"quantitative"},"text":{"field":"c"}}}
]}
],
"config":{
 "view":{"stroke":null},
 "title":{"font":"DejaVu Sans","fontSize":15,"fontWeight":"normal","color":"#333333","offset":3,"frame":"bounds","anchor":"middle"},
 "axis":{"domain":false,"ticks":false,"tickSize":0,"grid":false,"labelFont":"DejaVu Sans","labelFontSize":10,"labelColor":"#555555","labelPadding":4,"titleFont":"DejaVu Sans","titleFontSize":11,"titleFontWeight":"normal","titleColor":"#666666"},
 "axisX":{"labelPadding":5},
 "axisY":{"titleX":-29},
 "legend":{"symbolType":"circle","symbolSize":1296,"symbolStrokeWidth":0,"symbolOpacity":1,"labelOffset":12,"columnPadding":25,"labelFont":"DejaVu Sans","labelFontSize":16.5,"labelColor":"#444444","labelBaseline":"middle","labelLimit":300}
}
}
